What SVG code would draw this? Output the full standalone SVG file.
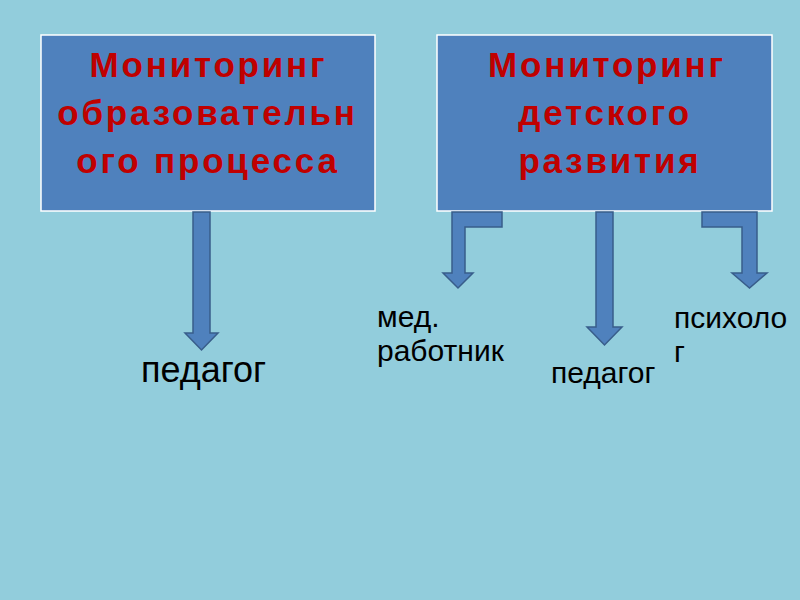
<svg xmlns="http://www.w3.org/2000/svg" width="800" height="600" viewBox="0 0 800 600">
<style>
.box{fill:#4F81BD;stroke:#FFFFFF;stroke-width:1.5}
.title{font-family:"Liberation Sans",Arial,sans-serif;font-weight:bold;font-size:35px;letter-spacing:2.8px;fill:#C00000;text-anchor:middle}
.lbl{font-family:"Liberation Sans",Arial,sans-serif;font-size:30px;fill:#000000}
.arr{fill:#4F81BD;stroke:#385D8A;stroke-width:1.5;stroke-linejoin:miter}
</style>
<rect width="800" height="600" fill="#92CDDC"/>
<g id="node-education">
<rect class="box" x="41" y="35" width="334" height="176"/>
<text class="title" x="208.5" y="77">Мониторинг</text>
<text class="title" x="207.5" y="125">образовательн</text>
<text class="title" x="208" y="173">ого процесса</text>
</g>
<g id="node-child">
<rect class="box" x="437" y="35" width="335" height="176"/>
<text class="title" x="607" y="77">Мониторинг</text>
<text class="title" x="605" y="125">детского</text>
<text class="title" x="610" y="173">развития</text>
</g>
<g id="node-pedagog1">
<text class="lbl" x="141" y="382" style="font-size:36px">педагог</text>
</g>
<g id="node-med">
<text class="lbl" x="377" y="327">мед.</text>
<text class="lbl" x="377" y="361">работник</text>
</g>
<g id="node-pedagog2">
<text class="lbl" x="551" y="383">педагог</text>
</g>
<g id="node-psych">
<text class="lbl" x="674" y="328">психоло</text>
<text class="lbl" x="674" y="362">г</text>
</g>
<g id="connectors">
<polygon class="arr" points="193,212 210,212 210,333 218,333 201.5,350 185,333 193,333"/>
<polygon class="arr" points="596,212 613,212 613,327 622,327 604.5,345 587,327 596,327"/>
<polygon class="arr" points="452,212 502,212 502,227 465,227 465,273 473,273 458,288 443,273 452,273"/>
<polygon class="arr" points="702,212 757,212 757,273 767,273 749.5,288 732,273 742,273 742,227 702,227"/>
</g>
</svg>
